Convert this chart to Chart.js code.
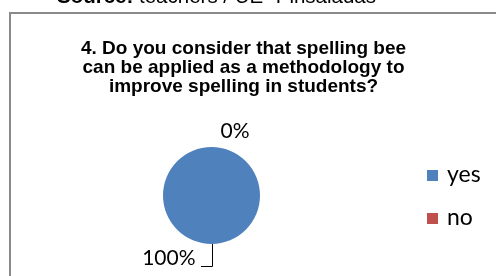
<!DOCTYPE html>
<html>
<head>
<meta charset="utf-8">
<script src="https://cdn.jsdelivr.net/npm/chart.js@4/dist/chart.umd.min.js"></script>
<style>
  html, body { margin: 0; padding: 0; background: #ffffff; }
  #wrap { position: relative; width: 496px; height: 276px; overflow: hidden; }
  canvas { display: block; }
</style>
</head>
<body>
<div id="wrap"><canvas id="c" width="496" height="276"></canvas></div>
<script>
const categories = ['yes', 'no'];
const values = [100, 0];
const colors = ['#4F81BD', '#C0504D'];
const titleLines = [
  '4. Do you consider that spelling bee',
  'can be applied as a methodology to',
  'improve spelling in students?'
];
const sourceBold = 'Source:';
const sourceText = ' teachers / UE \u201cPinsaladas\u201d';

const overlay = {
  id: 'overlay',
  beforeDraw(chart) {
    const ctx = chart.ctx;
    ctx.save();
    ctx.fillStyle = '#ffffff';
    ctx.fillRect(0, 0, chart.width, chart.height);
    // cut-off source line
    ctx.fillStyle = '#000';
    ctx.textBaseline = 'alphabetic';
    ctx.textAlign = 'left';
    ctx.font = 'bold 20.5px "Liberation Sans", Arial, sans-serif';
    ctx.fillText(sourceBold, 57, 3);
    const w = ctx.measureText(sourceBold).width;
    ctx.font = '20.5px "Liberation Sans", Arial, sans-serif';
    ctx.fillText(sourceText, 57 + w, 3);
    // chart frame
    ctx.strokeStyle = '#8a8a8a';
    ctx.lineWidth = 2;
    ctx.strokeRect(10, 13, 700, 400);
    // title
    ctx.fillStyle = '#000';
    ctx.textAlign = 'center';
    ctx.font = 'bold 19px "Liberation Sans", Arial, sans-serif';
    titleLines.forEach((t, i) => ctx.fillText(t, 243.5, 54 + i * 19));
    ctx.restore();
  },
  afterDraw(chart) {
    const ctx = chart.ctx;
    const meta = chart.getDatasetMeta(0);
    const data = chart.data.datasets[0].data;
    const total = data.reduce((a, b) => a + b, 0);
    ctx.save();
    ctx.fillStyle = '#000';
    ctx.font = '21px Lato, "Open Sans", sans-serif';
    ctx.textBaseline = 'alphabetic';
    meta.data.forEach((arc, i) => {
      const p = arc.getProps(['x', 'y', 'startAngle', 'endAngle', 'outerRadius'], true);
      const pct = Math.round(data[i] / total * 100) + '%';
      if (data[i] === 0) {
        const a = p.startAngle;
        const px = p.x + Math.cos(a) * p.outerRadius;
        const py = p.y + Math.sin(a) * p.outerRadius;
        ctx.textAlign = 'center';
        ctx.fillText(pct, px + 23.5, py - 9);
      } else {
        const a = (p.startAngle + p.endAngle) / 2;
        const px = p.x + Math.cos(a) * p.outerRadius;
        const py = p.y + Math.sin(a) * p.outerRadius;
        ctx.strokeStyle = '#000';
        ctx.lineWidth = 1;
        ctx.beginPath();
        ctx.moveTo(Math.round(px) + 0.5, py);
        ctx.lineTo(Math.round(px) + 0.5, py + 22.5);
        ctx.lineTo(Math.round(px) - 11, py + 22.5);
        ctx.stroke();
        ctx.textAlign = 'right';
        ctx.fillText(pct, px - 16, py + 21);
      }
    });
    // legend
    ctx.textAlign = 'left';
    ctx.textBaseline = 'middle';
    ctx.font = '23px Lato, "Open Sans", sans-serif';
    chart.data.labels.forEach((lab, i) => {
      const cy = 175 + i * 43;
      ctx.fillStyle = chart.data.datasets[0].backgroundColor[i];
      ctx.fillRect(427, cy - 5, 11, 11);
      ctx.fillStyle = '#000';
      ctx.fillText(lab, 447, cy);
    });
    ctx.restore();
  }
};

new Chart(document.getElementById('c'), {
  type: 'pie',
  data: {
    labels: categories,
    datasets: [{
      data: values,
      backgroundColor: colors,
      borderWidth: 0
    }]
  },
  options: {
    responsive: false,
    animation: false,
    devicePixelRatio: 1,
    layout: { padding: { left: 163, right: 236, top: 147, bottom: 32 } },
    plugins: {
      legend: { display: false },
      tooltip: { enabled: false },
      title: { display: false }
    }
  },
  plugins: [overlay]
});
</script>
</body>
</html>
